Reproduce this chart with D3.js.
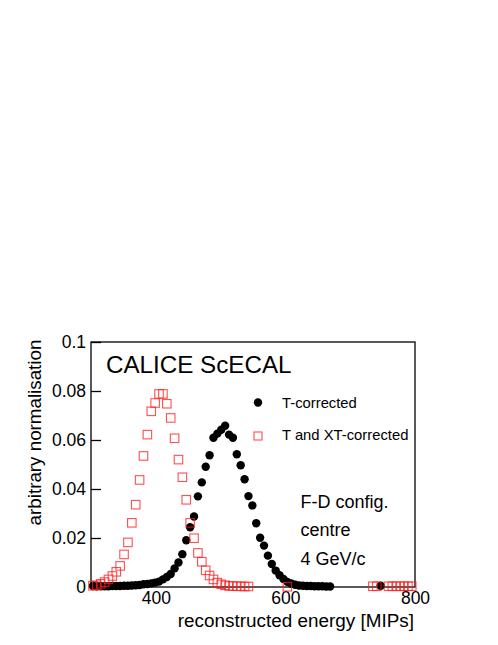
<!DOCTYPE html>
<html>
<head>
<meta charset="utf-8">
<script src="https://cdn.jsdelivr.net/npm/d3@7"></script>
<style>
  body { margin: 0; background: white; }
  svg { display: block; font-family: "Liberation Sans", Arial, sans-serif; }
</style>
</head>
<body>
<svg id="Chart" width="498" height="645"></svg>
<script>
// bin centres and values
var blackBins = [303, 309, 315, 321, 327, 333, 339, 345, 351, 357, 363, 369, 375, 381, 387, 393, 399, 405,
  411, 417, 423, 429, 435, 441, 447, 453, 459, 465, 471, 477, 483, 489, 495, 501, 507, 513, 519, 525,
  531, 537, 543, 549, 555, 561, 567, 573, 579, 585, 591, 597, 603, 609, 615, 621, 627, 633, 639, 645,
  651, 657, 663, 669, 747];
var blackValues = [0.0004, 0.0003, 0.0003, 0.0003, 0.0003, 0.0004, 0.0004, 0.0004, 0.0005, 0.0005, 0.0006,
  0.0007, 0.0008, 0.0011, 0.0012, 0.0015, 0.0018, 0.0022, 0.0031, 0.0041, 0.0053, 0.0076, 0.0100, 0.0134,
  0.0191, 0.0244, 0.0288, 0.0370, 0.0427, 0.0491, 0.0538, 0.0609, 0.0626, 0.0642, 0.0658, 0.0622, 0.0609,
  0.0542, 0.0497, 0.0440, 0.0371, 0.0333, 0.0260, 0.0201, 0.0169, 0.0128, 0.0094, 0.0067, 0.0048, 0.0033,
  0.0021, 0.0014, 0.0009, 0.0006, 0.0005, 0.0004, 0.0004, 0.0003, 0.0003, 0.0003, 0.0002, 0.0002, 0.0005];

var redBins = [303, 309, 315, 321, 327, 333, 339, 345, 351, 357, 363, 369, 375, 381, 387, 393, 399, 405,
  411, 417, 423, 429, 435, 441, 447, 453, 459, 465, 471, 477, 483, 489, 495, 501, 507, 513, 519, 525,
  531, 537, 543, 603, 735, 741, 759, 765, 771, 777, 783, 789, 795];
var redValues = [0.0005, 0.0007, 0.0013, 0.0020, 0.0031, 0.0045, 0.0062, 0.0086, 0.0133, 0.0182, 0.0262,
  0.0336, 0.0437, 0.0535, 0.0622, 0.0717, 0.0751, 0.0788, 0.0788, 0.0748, 0.0690, 0.0607, 0.0520, 0.0448,
  0.0356, 0.0262, 0.0199, 0.0139, 0.0103, 0.0068, 0.0047, 0.0031, 0.0018, 0.0011, 0.0007, 0.0004, 0.0004,
  0.0003, 0.0003, 0.0002, 0.0002, 0.0001, 0.0003, 0.0003, 0.0003, 0.0003, 0.0003, 0.0003, 0.0003, 0.0003,
  0.0003];

var yTicks = [0, 0.02, 0.04, 0.06, 0.08, 0.1];
var yTickLabels = ["0", "0.02", "0.04", "0.06", "0.08", "0.1"];
var xTicks = [400, 600, 800];
var xTickLabels = ["400", "600", "800"];
var legendLabels = ["T-corrected", "T and XT-corrected"];
var infoLines = ["F-D config.", "centre", "4 GeV/c"];

// plot frame in page pixels
var frame = {left: 91, right: 415, top: 342, bottom: 587};

var svg = d3.select("svg#Chart");

var x = d3.scaleLinear().domain([300, 800]).range([frame.left, frame.right]),
    y = d3.scaleLinear().domain([0, 0.1]).range([frame.bottom, frame.top]);

var redColor = "rgba(255, 30, 30, 0.78)";
var sq = 8.5;

// frame box
svg.append("rect")
    .attr("x", frame.left)
    .attr("y", frame.top)
    .attr("width", frame.right - frame.left)
    .attr("height", frame.bottom - frame.top)
    .attr("fill", "none")
    .attr("stroke", "black")
    .attr("stroke-width", 1.3);

// y axis with inward ticks
var yAxis = svg.append("g")
    .attr("transform", "translate(" + frame.left + ",0)")
    .call(d3.axisLeft(y)
        .tickValues(yTicks)
        .tickSize(-10)
        .tickPadding(5)
        .tickFormat(function(d, i) { return yTickLabels[i]; }));
yAxis.select(".domain").remove();
yAxis.selectAll(".tick line").attr("stroke-width", 1.3);
yAxis.selectAll(".tick text")
    .style("font-family", "Liberation Sans, Arial, sans-serif")
    .style("font-size", "17.5px")
    .attr("fill", "black");

// x axis, labels only
var xAxis = svg.append("g")
    .attr("transform", "translate(0," + frame.bottom + ")")
    .call(d3.axisBottom(x)
        .tickValues(xTicks)
        .tickSize(0)
        .tickPadding(5)
        .tickFormat(function(d, i) { return xTickLabels[i]; }));
xAxis.select(".domain").remove();
xAxis.selectAll(".tick text")
    .style("font-family", "Liberation Sans, Arial, sans-serif")
    .style("font-size", "17.5px")
    .attr("fill", "black");

// axis titles
svg.append("text")
    .attr("x", frame.right - 1)
    .attr("y", 627)
    .style("text-anchor", "end")
    .style("font-size", "18.9px")
    .text("reconstructed energy [MIPs]");

svg.append("text")
    .attr("transform", "translate(41," + 432.5 + ") rotate(-90)")
    .style("text-anchor", "middle")
    .style("font-size", "18.8px")
    .text("arbitrary normalisation");

// T-corrected points
svg.append("g").selectAll("circle")
    .data(blackBins)
  .enter().append("circle")
    .attr("cx", function(d) { return x(d); })
    .attr("cy", function(d, i) { return y(blackValues[i]); })
    .attr("r", 4.2)
    .attr("fill", "black");

// T and XT-corrected points
svg.append("g").selectAll("rect")
    .data(redBins)
  .enter().append("rect")
    .attr("x", function(d) { return x(d) - sq / 2; })
    .attr("y", function(d, i) { return y(redValues[i]) - sq / 2; })
    .attr("width", sq)
    .attr("height", sq)
    .attr("fill", "none")
    .attr("stroke", redColor)
    .attr("stroke-width", 1.1);

// title
svg.append("text")
    .attr("x", 106)
    .attr("y", 373)
    .style("font-size", "24.2px")
    .text("CALICE ScECAL");

// legend
svg.append("circle")
    .attr("cx", 258)
    .attr("cy", 402.5)
    .attr("r", 4.2)
    .attr("fill", "black");
svg.append("rect")
    .attr("x", 258 - 4)
    .attr("y", 436 - 4)
    .attr("width", 8)
    .attr("height", 8)
    .attr("fill", "none")
    .attr("stroke", redColor)
    .attr("stroke-width", 1.1);
svg.selectAll("text.legend")
    .data(legendLabels)
  .enter().append("text")
    .attr("class", "legend")
    .attr("x", 282)
    .attr("y", function(d, i) { return 407.5 + i * 32.5; })
    .style("font-size", "14.8px")
    .text(function(d) { return d; });

// run info
svg.selectAll("text.info")
    .data(infoLines)
  .enter().append("text")
    .attr("class", "info")
    .attr("x", 300.5)
    .attr("y", function(d, i) { return 507.5 + i * 28.7; })
    .style("font-size", "18px")
    .text(function(d) { return d; });
</script>
</body>
</html>
